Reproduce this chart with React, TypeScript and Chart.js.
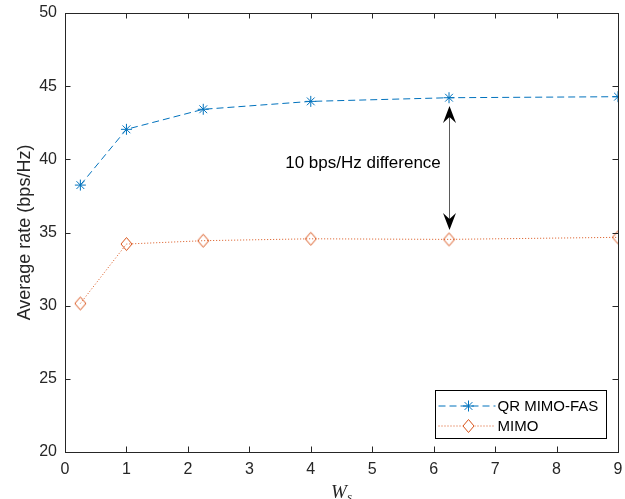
import React, { useEffect, useRef } from "react";
import { Chart, registerables } from "chart.js";

Chart.register(...registerables);

// ---- data ----
const wsValues = [0.25, 1, 2.25, 4, 6.25, 9];
const qrMimoFasRate = [38.24, 42.05, 43.42, 43.96, 44.21, 44.28];
const mimoRate = [30.15, 34.21, 34.44, 34.57, 34.53, 34.67];
const xTickValues = [0, 1, 2, 3, 4, 5, 6, 7, 8, 9];
const yTickValues = [20, 25, 30, 35, 40, 45, 50];
const seriesLabels = ["QR MIMO-FAS", "MIMO"];
const yAxisTitle = "Average rate (bps/Hz)";
const xAxisTitleMain = "W";
const xAxisTitleSub = "s";
const annotationText = "10 bps/Hz difference";
const arrowAt = [6.25, 43.64, 35.17]; // x, top y, bottom y (data units)
const annotationAt = [4.85, 39.75]; // text centre (data units)

const BLUE = "#0072BD";
const ORANGE = "#D95319";
const AXIS = "#262626";

function makeDiamond(color: string) {
  const c = document.createElement("canvas");
  c.width = 13;
  c.height = 16;
  const ctx = c.getContext("2d")!;
  ctx.strokeStyle = color;
  ctx.lineWidth = 1;
  ctx.beginPath();
  ctx.moveTo(6.5, 1.5);
  ctx.lineTo(12, 8);
  ctx.lineTo(6.5, 14.5);
  ctx.lineTo(1, 8);
  ctx.closePath();
  ctx.stroke();
  return c;
}

function drawStar(ctx: CanvasRenderingContext2D, x: number, y: number, r: number, color: string) {
  ctx.save();
  ctx.strokeStyle = color;
  ctx.lineWidth = 1;
  ctx.setLineDash([]);
  ctx.beginPath();
  const d = r * Math.SQRT1_2;
  ctx.moveTo(x - r, y); ctx.lineTo(x + r, y);
  ctx.moveTo(x, y - r); ctx.lineTo(x, y + r);
  ctx.moveTo(x - d, y - d); ctx.lineTo(x + d, y + d);
  ctx.moveTo(x - d, y + d); ctx.lineTo(x + d, y - d);
  ctx.stroke();
  ctx.restore();
}

function arrowHead(ctx: CanvasRenderingContext2D, x: number, y: number, dir: number) {
  ctx.beginPath();
  ctx.moveTo(x, y);
  ctx.lineTo(x + 6.5, y + dir * 17);
  ctx.lineTo(x, y + dir * 11);
  ctx.lineTo(x - 6.5, y + dir * 17);
  ctx.closePath();
  ctx.fill();
}

let diamondImg: HTMLCanvasElement;

const noPad = () => ({ left: 0, top: 0, right: 0, bottom: 0 });

const decorPlugin = {
  id: "decor",
  afterDatasetsDraw(chart: any) {
    const { ctx, chartArea: a, scales } = chart;
    const xs = scales.x;
    const ys = scales.y;
    ctx.save();
    // frame
    ctx.strokeStyle = AXIS;
    ctx.lineWidth = 1;
    ctx.setLineDash([]);
    ctx.strokeRect(Math.round(a.left) + 0.5, Math.round(a.top) + 0.5, Math.round(a.right - a.left), Math.round(a.bottom - a.top));
    // inward ticks
    ctx.beginPath();
    const tl = 5.5;
    for (const v of xTickValues) {
      const px = Math.round(xs.getPixelForValue(v)) + 0.5;
      ctx.moveTo(px, a.bottom); ctx.lineTo(px, a.bottom - tl);
      ctx.moveTo(px, a.top); ctx.lineTo(px, a.top + tl);
    }
    for (const v of yTickValues) {
      const py = Math.round(ys.getPixelForValue(v)) + 0.5;
      ctx.moveTo(a.left, py); ctx.lineTo(a.left + tl, py);
      ctx.moveTo(a.right, py); ctx.lineTo(a.right - tl, py);
    }
    ctx.stroke();

    // annotation arrow
    const ax = Math.round(xs.getPixelForValue(arrowAt[0])) + 0.5;
    const ayTop = ys.getPixelForValue(arrowAt[1]);
    const ayBot = ys.getPixelForValue(arrowAt[2]);
    ctx.strokeStyle = "#5a5a5a";
    ctx.beginPath();
    ctx.moveTo(ax, ayTop + 8);
    ctx.lineTo(ax, ayBot - 8);
    ctx.stroke();
    ctx.fillStyle = "#000";
    arrowHead(ctx, ax, ayTop, 1);
    arrowHead(ctx, ax, ayBot, -1);

    // annotation text
    ctx.font = "17px 'Liberation Sans', Arial, sans-serif";
    ctx.textAlign = "center";
    ctx.textBaseline = "middle";
    ctx.fillStyle = "#000";
    ctx.fillText(annotationText, xs.getPixelForValue(annotationAt[0]), ys.getPixelForValue(annotationAt[1]));

    // legend
    const lw = 171, lh = 48;
    const lx = Math.round(a.right - 12 - lw) + 0.5;
    const ly = Math.round(a.bottom - 14 - lh) + 0.5;
    ctx.fillStyle = "#fff";
    ctx.fillRect(lx, ly, lw, lh);
    ctx.strokeStyle = "#000";
    ctx.lineWidth = 1;
    ctx.strokeRect(lx, ly, lw, lh);
    const rows = [ly + 15.5, ly + 35.5];
    const sx0 = lx + 3, sx1 = lx + 60, mx = lx + 33;
    ctx.font = "15px 'Liberation Sans', Arial, sans-serif";
    ctx.textAlign = "left";
    ctx.textBaseline = "middle";
    // row 1
    ctx.strokeStyle = BLUE;
    ctx.setLineDash([7, 4]);
    ctx.beginPath(); ctx.moveTo(sx0, rows[0]); ctx.lineTo(sx1, rows[0]); ctx.stroke();
    ctx.setLineDash([]);
    drawStar(ctx, mx, rows[0], 5.5, BLUE);
    ctx.fillStyle = "#000";
    ctx.fillText(seriesLabels[0], lx + 62, rows[0] + 1);
    // row 2
    ctx.strokeStyle = ORANGE;
    ctx.setLineDash([1, 2]);
    ctx.beginPath(); ctx.moveTo(sx0, rows[1]); ctx.lineTo(sx1, rows[1]); ctx.stroke();
    ctx.setLineDash([]);
    ctx.fillStyle = "#fff";
    ctx.fillRect(mx - 6, rows[1] - 7, 12, 14);
    ctx.drawImage(diamondImg, Math.round(mx - 6.5), Math.round(rows[1] - 8));
    ctx.fillStyle = "#000";
    ctx.fillText(seriesLabels[1], lx + 62, rows[1] + 1);

    // x title W_s
    const cx = (a.left + a.right) / 2;
    ctx.font = "italic 19px 'Liberation Serif', 'Times New Roman', serif";
    const wW = ctx.measureText(xAxisTitleMain).width;
    ctx.font = "italic 13px 'Liberation Serif', 'Times New Roman', serif";
    const sW = ctx.measureText(xAxisTitleSub).width;
    const start = cx - (wW + sW) / 2;
    ctx.fillStyle = AXIS;
    ctx.textAlign = "left";
    ctx.textBaseline = "alphabetic";
    ctx.font = "italic 19px 'Liberation Serif', 'Times New Roman', serif";
    ctx.fillText(xAxisTitleMain, start, 498);
    ctx.font = "italic 13px 'Liberation Serif', 'Times New Roman', serif";
    ctx.fillText(xAxisTitleSub, start + wW, 501);
    ctx.restore();
  },
};

export default function App() {
  const ref = useRef<HTMLCanvasElement>(null);
  useEffect(() => {
    if (!ref.current) return;
    diamondImg = makeDiamond(ORANGE);
    const chart = new Chart(ref.current, {
      type: "scatter",
      data: {
        datasets: [
          {
            label: seriesLabels[0],
            data: wsValues.map((x, i) => ({ x, y: qrMimoFasRate[i] })),
            showLine: true,
            borderColor: BLUE,
            backgroundColor: BLUE,
            borderWidth: 1,
            borderDash: [7, 4],
            pointStyle: "star",
            pointRadius: 5.5,
            pointBorderWidth: 1,
            pointBorderColor: BLUE,
          },
          {
            label: seriesLabels[1],
            data: wsValues.map((x, i) => ({ x, y: mimoRate[i] })),
            showLine: true,
            borderColor: ORANGE,
            backgroundColor: ORANGE,
            borderWidth: 1,
            borderDash: [1, 2],
            pointStyle: diamondImg as any,
            pointRadius: 6,
          },
        ],
      },
      options: {
        responsive: false,
        animation: false,
        layout: { padding: { top: 13, right: 3, left: 0, bottom: 0 } },
        plugins: { legend: { display: false }, tooltip: { enabled: false } },
        scales: {
          x: {
            type: "linear",
            min: 0,
            max: 9,
            afterBuildTicks: (s: any) => { s.ticks = xTickValues.map((v) => ({ value: v })); },
            afterFit: (s: any) => { s.height = 47; s.paddingLeft = 0; s.paddingRight = 0; s.getPadding = noPad; },
            grid: { display: false, drawTicks: false },
            border: { display: false },
            ticks: { font: { size: 16, family: "'Liberation Sans', Arial, sans-serif" }, color: AXIS, padding: 8, maxRotation: 0 },
          },
          y: {
            type: "linear",
            min: 20,
            max: 50,
            afterBuildTicks: (s: any) => { s.ticks = yTickValues.map((v) => ({ value: v })); },
            afterFit: (s: any) => { s.width = 65; s.paddingTop = 0; s.paddingBottom = 0; s.getPadding = noPad; },
            grid: { display: false, drawTicks: false },
            border: { display: false },
            ticks: { font: { size: 16, family: "'Liberation Sans', Arial, sans-serif" }, color: AXIS, padding: 8 },
            title: {
              display: true,
              text: yAxisTitle,
              color: AXIS,
              font: { size: 18, family: "'Liberation Sans', Arial, sans-serif" },
              padding: { top: 14, bottom: 0 },
            },
          },
        },
      },
      plugins: [decorPlugin],
    });
    return () => chart.destroy();
  }, []);
  return (
    <div style={{ position: "fixed", left: 0, top: 0, width: 625, height: 499, background: "#fff" }}>
      <canvas ref={ref} width={625} height={499} />
    </div>
  );
}
